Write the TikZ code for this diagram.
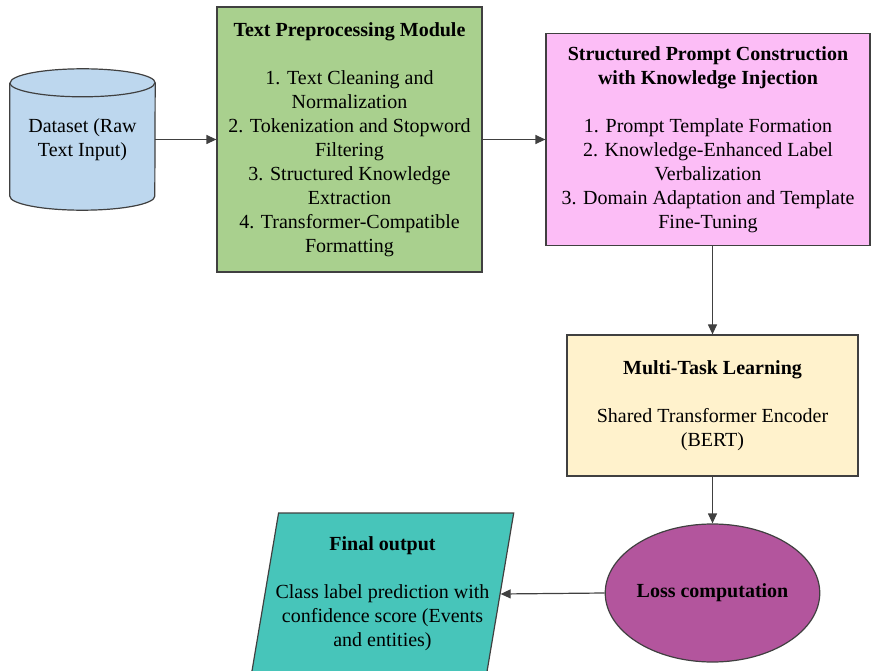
\documentclass[tikz,border=0pt]{standalone}
\usepackage{fontspec}
\setmainfont{Liberation Serif}
\usetikzlibrary{shapes.geometric,arrows.meta}

\definecolor{dataBlue}{HTML}{BDD7EE}
\definecolor{prepGreen}{HTML}{A9D08E}
\definecolor{promptPink}{HTML}{FCBDF6}
\definecolor{mtlYellow}{HTML}{FFF2CC}
\definecolor{lossPurple}{HTML}{B3559D}
\definecolor{outTeal}{HTML}{47C5BA}
\definecolor{edgeGray}{HTML}{404040}

\tikzset{
  box/.style={draw=edgeGray, line width=1.2pt, align=center, inner sep=2pt},
  flow/.style={draw=edgeGray, line width=1.2pt, -{Triangle[length=10pt,width=9pt]}},
}

\begin{document}
\begin{tikzpicture}[x=1pt,y=-1pt,font=\fontsize{20}{24}\selectfont]
\clip (0,0) rectangle (871,671);

% input data: drum drawn round the text node
\node[align=center, minimum width=145pt, minimum height=141pt] (data) at (82.5,139.5) {};
\path[draw=edgeGray, fill=dataBlue, line width=1.2pt]
  ([yshift=-14pt]data.north west) -- ([yshift=14pt]data.south west)
  arc[start angle=180, end angle=360, x radius=72.5pt, y radius=14pt]
  -- ([yshift=-14pt]data.north east)
  arc[start angle=0, end angle=180, x radius=72.5pt, y radius=14pt];
\draw[edgeGray, line width=1.2pt] ([yshift=-14pt]data.north west)
  arc[start angle=180, end angle=360, x radius=72.5pt, y radius=14pt];
\node[align=center] at (data) {Dataset (Raw\\Text Input)};

% processing stages
\node[box, fill=prepGreen, minimum width=265pt, minimum height=265pt] (prep) at (349.5,139.5)
  {\textbf{Text Preprocessing Module}\\[24pt]
   1. Text Cleaning and\\ Normalization\\
   2. Tokenization and Stopword\\ Filtering\\
   3. Structured Knowledge\\ Extraction\\
   4. Transformer-Compatible\\ Formatting};

\node[box, fill=promptPink, minimum width=324pt, minimum height=212pt] (prompt) at (708,139.5)
  {\textbf{Structured Prompt Construction}\\ \textbf{with Knowledge Injection}\\[24pt]
   1. Prompt Template Formation\\
   2. Knowledge-Enhanced Label\\ Verbalization\\
   3. Domain Adaptation and Template\\ Fine-Tuning};

\node[box, fill=mtlYellow, minimum width=291pt, minimum height=141pt] (mtl) at (712.5,405.5)
  {\textbf{Multi-Task Learning}\\[24pt]
   Shared Transformer Encoder\\ (BERT)};

\node[box, ellipse, fill=lossPurple, inner sep=0pt, minimum width=209pt, minimum height=138pt] (loss) at (712.5,593)
  {\textbf{Loss computation}};

% result
\node[box, trapezium, trapezium left angle=77, trapezium right angle=103, trapezium stretches body,
  inner xsep=-3pt, fill=outTeal, minimum width=258pt, minimum height=162pt] (output) at (382.5,594)
  {\textbf{Final output}\\[24pt]
   Class label prediction with\\ confidence score (Events\\ and entities)};

% connectors
\draw[flow] (data.east) -- (prep.west);
\draw[flow] (prep.east) -- (prompt.west);
\draw[flow] (prompt.south -| mtl.north) -- (mtl.north);
\draw[flow] (mtl.south) -- (loss.north);
\draw[flow] (loss.west) -- (output.east);
\end{tikzpicture}
\end{document}
